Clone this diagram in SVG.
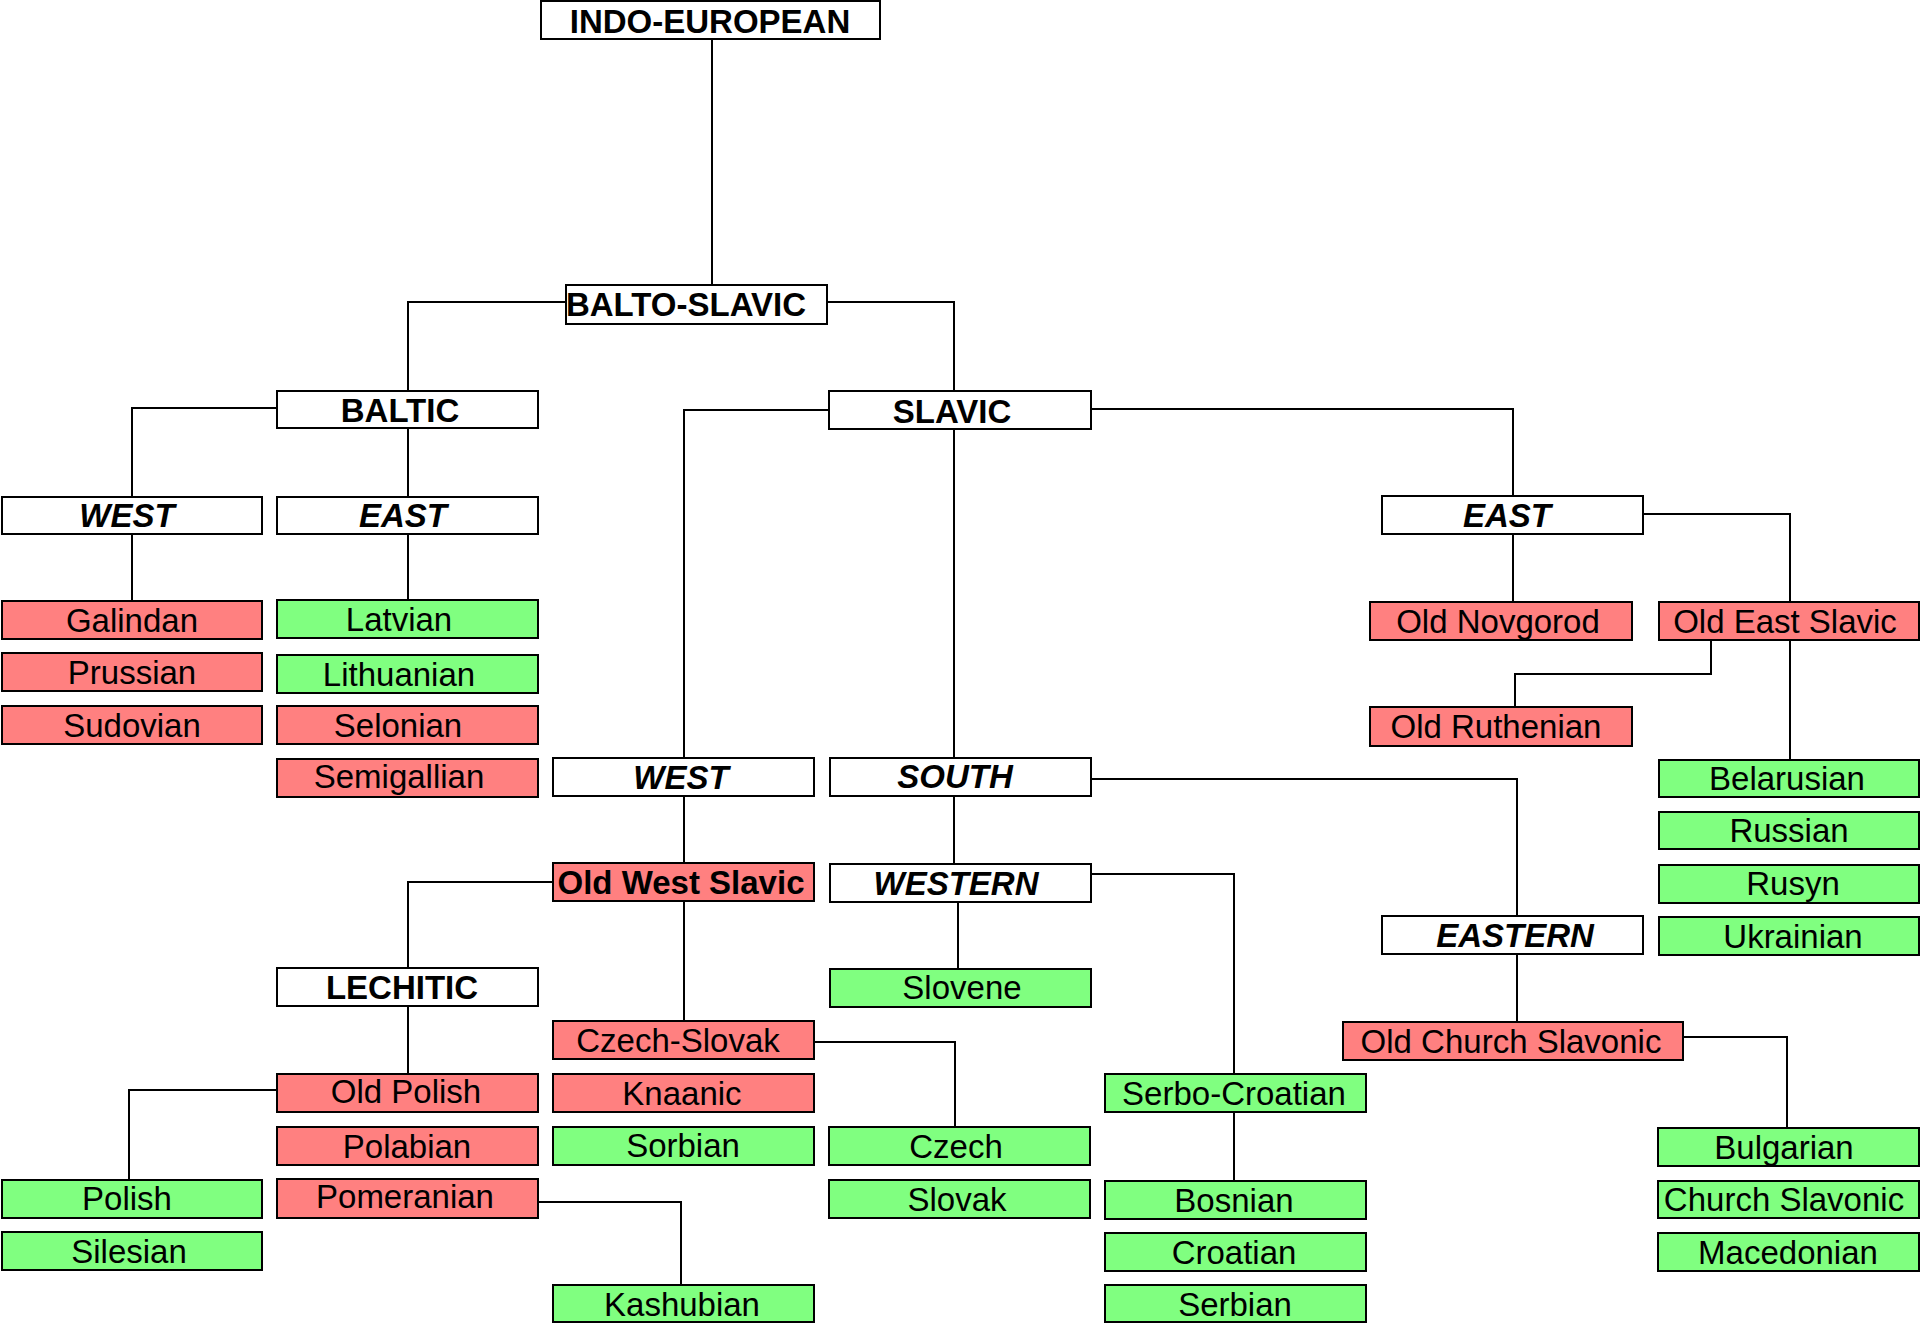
<svg xmlns="http://www.w3.org/2000/svg" width="1920" height="1323" viewBox="0 0 1920 1323">
<style>
g rect{stroke:#000;stroke-width:2}
.w{fill:#fff}
.r{fill:#ff8080}
.g{fill:#80ff80}
text{font-family:"Liberation Sans",Arial,sans-serif;font-size:33px;text-anchor:middle;fill:#000}
.b{font-weight:bold}
.bi{font-weight:bold;font-style:italic}
#connectors path{fill:none;stroke:#000;stroke-width:2}
</style>
<g id="connectors">
<path d="M712,39V285"/>
<path d="M566,302H408V391"/>
<path d="M827,302H954V391"/>
<path d="M277,408H132V497"/>
<path d="M408,428V497"/>
<path d="M132,534V601"/>
<path d="M408,534V600"/>
<path d="M829,410H684V758"/>
<path d="M954,429V758"/>
<path d="M1091,409H1513V496"/>
<path d="M1513,534V602"/>
<path d="M1643,514H1790V602"/>
<path d="M1711,640V674H1515V707"/>
<path d="M1790,640V760"/>
<path d="M684,796V863"/>
<path d="M553,882H408V968"/>
<path d="M684,901V1021"/>
<path d="M408,1006V1074"/>
<path d="M277,1090H129V1180"/>
<path d="M538,1202H681V1285"/>
<path d="M814,1042H955V1127"/>
<path d="M954,796V864"/>
<path d="M1091,779H1517V916"/>
<path d="M958,902V969"/>
<path d="M1091,874H1234V1074"/>
<path d="M1234,1112V1181"/>
<path d="M1517,954V1022"/>
<path d="M1683,1037H1787V1128"/>
</g>
<g id="indo-european"><rect class="w" x="541" y="1" width="339" height="38"/><text class="b" x="710" y="33">INDO-EUROPEAN</text></g>
<g id="balto-slavic"><rect class="w" x="566" y="285" width="261" height="39"/><text class="b" x="686" y="316">BALTO-SLAVIC</text></g>
<g id="baltic"><rect class="w" x="277" y="391" width="261" height="37"/><text class="b" x="400" y="422">BALTIC</text></g>
<g id="slavic"><rect class="w" x="829" y="391" width="262" height="38"/><text class="b" x="952" y="423">SLAVIC</text></g>
<g id="baltic-west"><rect class="w" x="2" y="497" width="260" height="37"/><text class="bi" x="127" y="527">WEST</text></g>
<g id="baltic-east"><rect class="w" x="277" y="497" width="261" height="37"/><text class="bi" x="403" y="527">EAST</text></g>
<g id="slavic-east"><rect class="w" x="1382" y="496" width="261" height="38"/><text class="bi" x="1507" y="527">EAST</text></g>
<g id="galindan"><rect class="r" x="2" y="601" width="260" height="38"/><text x="132" y="632">Galindan</text></g>
<g id="prussian"><rect class="r" x="2" y="653" width="260" height="38"/><text x="132" y="684">Prussian</text></g>
<g id="sudovian"><rect class="r" x="2" y="706" width="260" height="38"/><text x="132" y="737">Sudovian</text></g>
<g id="latvian"><rect class="g" x="277" y="600" width="261" height="38"/><text x="399" y="631">Latvian</text></g>
<g id="lithuanian"><rect class="g" x="277" y="655" width="261" height="38"/><text x="399" y="686">Lithuanian</text></g>
<g id="selonian"><rect class="r" x="277" y="706" width="261" height="38"/><text x="398" y="737">Selonian</text></g>
<g id="semigallian"><rect class="r" x="277" y="759" width="261" height="38"/><text x="399" y="788">Semigallian</text></g>
<g id="slavic-west"><rect class="w" x="553" y="758" width="261" height="38"/><text class="bi" x="681" y="789">WEST</text></g>
<g id="south"><rect class="w" x="830" y="758" width="261" height="38"/><text class="bi" x="955" y="788">SOUTH</text></g>
<g id="old-west-slavic"><rect class="r" x="553" y="863" width="261" height="38"/><text class="b" x="681" y="894">Old West Slavic</text></g>
<g id="western"><rect class="w" x="830" y="864" width="261" height="38"/><text class="bi" x="956" y="895">WESTERN</text></g>
<g id="lechitic"><rect class="w" x="277" y="968" width="261" height="38"/><text class="b" x="402" y="999">LECHITIC</text></g>
<g id="slovene"><rect class="g" x="830" y="969" width="261" height="38"/><text x="962" y="999">Slovene</text></g>
<g id="czech-slovak"><rect class="r" x="553" y="1021" width="261" height="38"/><text x="678" y="1052">Czech-Slovak</text></g>
<g id="old-polish"><rect class="r" x="277" y="1074" width="261" height="38"/><text x="406" y="1103">Old Polish</text></g>
<g id="knaanic"><rect class="r" x="553" y="1074" width="261" height="38"/><text x="682" y="1105">Knaanic</text></g>
<g id="polabian"><rect class="r" x="277" y="1127" width="261" height="38"/><text x="407" y="1158">Polabian</text></g>
<g id="sorbian"><rect class="g" x="553" y="1127" width="261" height="38"/><text x="683" y="1157">Sorbian</text></g>
<g id="czech"><rect class="g" x="829" y="1127" width="261" height="38"/><text x="956" y="1158">Czech</text></g>
<g id="polish"><rect class="g" x="2" y="1180" width="260" height="38"/><text x="127" y="1210">Polish</text></g>
<g id="pomeranian"><rect class="r" x="277" y="1179" width="261" height="39"/><text x="405" y="1208">Pomeranian</text></g>
<g id="slovak"><rect class="g" x="829" y="1180" width="261" height="38"/><text x="957" y="1211">Slovak</text></g>
<g id="silesian"><rect class="g" x="2" y="1232" width="260" height="38"/><text x="129" y="1263">Silesian</text></g>
<g id="kashubian"><rect class="g" x="553" y="1285" width="261" height="37"/><text x="682" y="1316">Kashubian</text></g>
<g id="old-novgorod"><rect class="r" x="1370" y="602" width="262" height="38"/><text x="1498" y="633">Old Novgorod</text></g>
<g id="old-east-slavic"><rect class="r" x="1659" y="602" width="260" height="38"/><text x="1785" y="633">Old East Slavic</text></g>
<g id="old-ruthenian"><rect class="r" x="1370" y="707" width="262" height="39"/><text x="1496" y="738">Old Ruthenian</text></g>
<g id="belarusian"><rect class="g" x="1659" y="760" width="260" height="37"/><text x="1787" y="790">Belarusian</text></g>
<g id="russian"><rect class="g" x="1659" y="812" width="260" height="37"/><text x="1789" y="842">Russian</text></g>
<g id="rusyn"><rect class="g" x="1659" y="865" width="260" height="38"/><text x="1793" y="895">Rusyn</text></g>
<g id="ukrainian"><rect class="g" x="1659" y="917" width="260" height="38"/><text x="1793" y="948">Ukrainian</text></g>
<g id="eastern"><rect class="w" x="1382" y="916" width="261" height="38"/><text class="bi" x="1515" y="947">EASTERN</text></g>
<g id="old-church-slavonic"><rect class="r" x="1343" y="1022" width="340" height="38"/><text x="1511" y="1053">Old Church Slavonic</text></g>
<g id="serbo-croatian"><rect class="g" x="1105" y="1074" width="261" height="38"/><text x="1234" y="1105">Serbo-Croatian</text></g>
<g id="bosnian"><rect class="g" x="1105" y="1181" width="261" height="38"/><text x="1234" y="1212">Bosnian</text></g>
<g id="croatian"><rect class="g" x="1105" y="1233" width="261" height="38"/><text x="1234" y="1264">Croatian</text></g>
<g id="serbian"><rect class="g" x="1105" y="1285" width="261" height="37"/><text x="1235" y="1316">Serbian</text></g>
<g id="bulgarian"><rect class="g" x="1658" y="1128" width="261" height="38"/><text x="1784" y="1159">Bulgarian</text></g>
<g id="church-slavonic"><rect class="g" x="1658" y="1181" width="261" height="37"/><text x="1784" y="1211">Church Slavonic</text></g>
<g id="macedonian"><rect class="g" x="1658" y="1233" width="261" height="38"/><text x="1788" y="1264">Macedonian</text></g>
</svg>
